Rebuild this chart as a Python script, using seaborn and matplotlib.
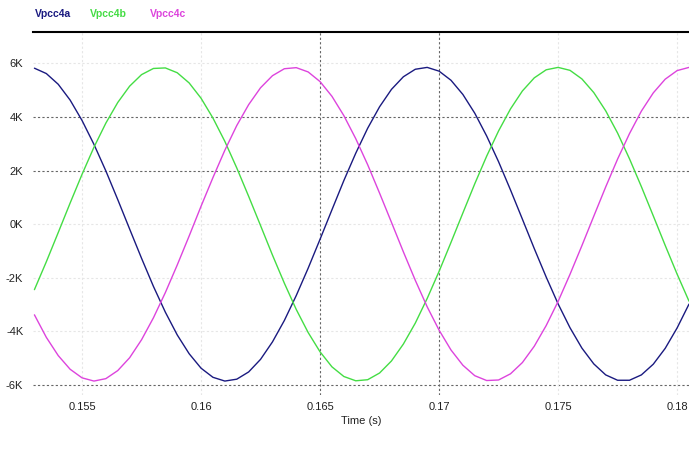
import matplotlib
import matplotlib.pyplot as plt
import matplotlib.ticker as ticker
import seaborn as sns
import pandas as pd

matplotlib.use('Agg')

# time axis (s), one sample every 0.5 ms
time = [0.153 + 0.0005 * i for i in range(56)]

# phase voltages in kV
vpcc4a = [5.82, 5.62, 5.22, 4.63, 3.87, 2.98, 1.99, 0.92, -0.18, -1.27,
          -2.32, -3.28, -4.13, -4.83, -5.37, -5.71, -5.85, -5.78, -5.51, -5.04,
          -4.39, -3.59, -2.66, -1.64, -0.56, 0.54, 1.63, 2.65, 3.58, 4.38,
          5.03, 5.50, 5.78, 5.85, 5.71, 5.37, 4.84, 4.14, 3.29, 2.33,
          1.28, 0.19, -0.91, -1.97, -2.97, -3.86, -4.62, -5.21, -5.62, -5.82,
          -5.82, -5.62, -5.22, -4.63, -3.87, -2.98]
vpcc4b = [-2.44, -1.40, -0.31, 0.79, 1.86, 2.87, 3.77, 4.54, 5.15, 5.58,
          5.81, 5.83, 5.65, 5.27, 4.70, 3.96, 3.09, 2.10, 1.04, -0.05,
          -1.15, -2.20, -3.18, -4.04, -4.76, -5.32, -5.68, -5.84, -5.80, -5.55,
          -5.10, -4.47, -3.69, -2.77, -1.76, -0.68, 0.42, 1.51, 2.54, 3.48,
          4.30, 4.97, 5.46, 5.76, 5.85, 5.74, 5.42, 4.91, 4.23, 3.40,
          2.44, 1.40, 0.31, -0.79, -1.86, -2.87]
vpcc4c = [-3.38, -4.22, -4.90, -5.41, -5.73, -5.85, -5.76, -5.46, -4.98, -4.31,
          -3.49, -2.55, -1.52, -0.44, 0.67, 1.74, 2.76, 3.68, 4.46, 5.09,
          5.54, 5.80, 5.84, 5.68, 5.32, 4.77, 4.05, 3.19, 2.22, 1.16,
          0.07, -1.03, -2.09, -3.08, -3.95, -4.69, -5.26, -5.65, -5.83, -5.81,
          -5.58, -5.16, -4.55, -3.78, -2.88, -1.87, -0.80, 0.30, 1.39, 2.43,
          3.38, 4.22, 4.90, 5.41, 5.73, 5.85]

series_names = ['Vpcc4a', 'Vpcc4b', 'Vpcc4c']
series_colors = ['#1a1a80', '#44dd44', '#dd44dd']

x_ticks = [0.155, 0.16, 0.165, 0.17, 0.175, 0.18]
x_labels = ['0.155', '0.16', '0.165', '0.17', '0.175', '0.18']
y_ticks = [6, 4, 2, 0, -2, -4, -6]

df = pd.DataFrame({'time': time * 3,
                   'volt': vpcc4a + vpcc4b + vpcc4c,
                   'name': [n for n in series_names for _ in time]})

sns.set_style("white")
plt.rcParams['font.family'] = ['Liberation Sans Narrow', 'Liberation Sans', 'DejaVu Sans']

f = plt.figure(figsize=(6.89, 4.58), dpi=100)
ax = f.add_axes([33 / 689, 1 - 395 / 458, 1 - 33 / 689, (395 - 32) / 458])

# grid: faint everywhere, darker dotted at a few lines like the original
for v in y_ticks:
    strong = v in (4, 2, -6)
    ax.axhline(v, color='#666666' if strong else '#e6e6e6', ls=(0, (2, 2)),
               lw=0.8, zorder=0)
for v in x_ticks:
    strong = v in (0.165, 0.17)
    ax.axvline(v, color='#666666' if strong else '#e6e6e6', ls=(0, (2, 2)),
               lw=0.8, zorder=0)

sns.lineplot(data=df, x='time', y='volt', hue='name', palette=series_colors,
             hue_order=series_names, linewidth=1.0, legend=False, ax=ax)

ax.set_xlim(0.15294, 0.1805)
ax.set_ylim(-6.37, 7.17)
ax.xaxis.set_major_locator(ticker.FixedLocator(x_ticks))
ax.set_xticklabels(x_labels)
ax.yaxis.set_major_locator(ticker.FixedLocator(y_ticks))
ax.yaxis.set_major_formatter(ticker.FuncFormatter(lambda v, p: '%dK' % v))
ax.tick_params(axis='both', length=0, labelsize=8, colors='#222222')
ax.tick_params(axis='y', pad=7)
ax.tick_params(axis='x', pad=5)

for s in ['left', 'right', 'bottom']:
    ax.spines[s].set_visible(False)
ax.spines['top'].set_color('black')
ax.spines['top'].set_linewidth(1.5)

ax.set(ylabel='')
ax.set_xlabel('Time (s)', fontsize=8, labelpad=3, color='#222222')

# legend as coloured labels above the plot
for name, col, xpos in zip(series_names, series_colors, [35, 90, 150]):
    f.text(xpos / 689, 1 - 14 / 458, name, color=col, fontsize=7.5,
           fontweight='bold', va='center', ha='left')

f.savefig('out.png', dpi=100)
